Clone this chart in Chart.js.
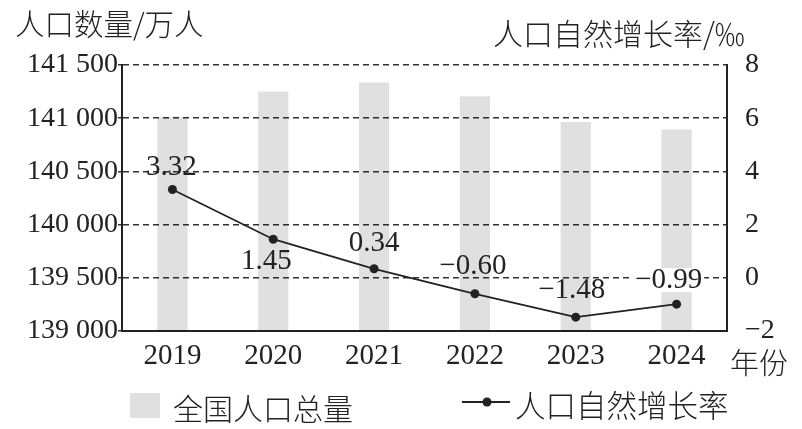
<!DOCTYPE html>
<html>
<head>
<meta charset="utf-8">
<script src="https://cdn.jsdelivr.net/npm/chart.js@4.4.1/dist/chart.umd.min.js"></script>
<style>
  body { margin: 0; background: #fff; }
  #wrap { position: relative; width: 802px; height: 429px; overflow: hidden; }
  #wrap canvas { position: absolute; left: 0; top: 0; }
  .txt { position: absolute; font-family: "Noto Sans CJK SC", sans-serif; font-weight: 300; color: #222; white-space: nowrap; line-height: 1; }
  .swatch { position: absolute; }
</style>
</head>
<body>
<div id="wrap">
  <canvas id="chart" width="802" height="429"></canvas>
  <div class="txt" style="left:15px;top:8px;font-size:29.5px;">人口数量/万人</div>
  <div class="txt" style="left:493px;top:17px;font-size:30px;">人口自然增长率/‰</div>
  <div class="txt" style="left:730px;top:347px;font-size:29px;">年份</div>
  <div class="swatch" style="left:130px;top:393px;width:30px;height:25px;background:#e0e0e0;"></div>
  <div class="txt" style="left:173px;top:392px;font-size:30px;">全国人口总量</div>
  <svg class="swatch" style="left:462px;top:394px;" width="50" height="16">
    <line x1="0" y1="8" x2="48" y2="8" stroke="#222" stroke-width="2"/>
    <circle cx="25" cy="8" r="4.5" fill="#222"/>
  </svg>
  <div class="txt" style="left:515px;top:389px;font-size:30.5px;">人口自然增长率</div>
</div>
<script>
'use strict'

var years = ['2019', '2020', '2021', '2022', '2023', '2024'];
// 全国人口总量 (万人)
var population = [141008, 141250, 141335, 141207, 140965, 140894];
// 人口自然增长率 (‰)
var growthRate = [3.32, 1.45, 0.34, -0.60, -1.48, -0.99];
var popTicks = [139000, 139500, 140000, 140500, 141000, 141500];
var rateTicks = [-2, 0, 2, 4, 6, 8];

// where each value label sits relative to its point: [dx, dy, white background]
var labelOffsets = [[-1, -22, false], [-7, 22, false], [0, -25, false], [-2, -27, false], [-4, -27, false], [-8, -24, true]];

var serif = '"Liberation Serif", "Times New Roman", serif';

function fmtPop(v) {
  return String(v).replace(/\B(?=(\d{3})+(?!\d))/g, ' ');
}
function fmtRate(v, digits) {
  var s = digits ? Math.abs(v).toFixed(digits) : String(Math.abs(v));
  return v < 0 ? '\u2212' + s : s;
}

var rateLabels = {
  id: 'rateLabels',
  afterDatasetsDraw: function(chart) {
    var meta = chart.getDatasetMeta(1);
    var ctx = chart.ctx;
    ctx.save();
    ctx.font = '29px ' + serif;
    ctx.textAlign = 'center';
    ctx.textBaseline = 'middle';
    meta.data.forEach(function(pt, i) {
      var off = labelOffsets[i];
      var x = pt.x + off[0], y = pt.y + off[1];
      var text = fmtRate(growthRate[i], 2);
      if (off[2]) {
        var w = ctx.measureText(text).width;
        ctx.fillStyle = '#fff';
        ctx.fillRect(x - w / 2 - 2, y - 12, w + 4, 24);
      }
      ctx.fillStyle = '#222';
      ctx.fillText(text, x, y);
    });
    ctx.restore();
  }
};

var chart = new Chart(document.getElementById('chart'), {
  data: {
    labels: years,
    datasets: [{
      type: 'bar',
      label: '全国人口总量',
      data: population,
      yAxisID: 'y',
      backgroundColor: 'rgba(0,0,0,0.12)',
      barPercentage: 1,
      categoryPercentage: 0.3,
      order: 1
    }, {
      type: 'line',
      label: '人口自然增长率',
      data: growthRate,
      yAxisID: 'y1',
      borderColor: '#222',
      borderWidth: 1.8,
      pointRadius: 4.5,
      pointBackgroundColor: '#222',
      pointBorderWidth: 0,
      tension: 0,
      order: 0
    }]
  },
  options: {
    responsive: false,
    animation: false,
    layout: { padding: { left: 0, right: 0, top: 65, bottom: 0 } },
    plugins: { legend: { display: false }, tooltip: { enabled: false } },
    scales: {
      x: {
        grid: { display: false },
        border: { display: true, color: '#222', width: 2 },
        ticks: { color: '#222', font: { family: serif, size: 29 }, padding: 0, maxRotation: 0 },
        afterFit: function(s) { s.height = 98; }
      },
      y: {
        position: 'left',
        min: 139000,
        max: 141500,
        afterBuildTicks: function(s) { s.ticks = popTicks.map(function(v) { return { value: v }; }); },
        grid: { color: '#333', lineWidth: 1.5, drawTicks: true, tickLength: 4, tickBorderDash: [] },
        border: { display: true, color: '#222', width: 2, dash: [6, 4] },
        ticks: { color: '#222', font: { family: serif, size: 28 }, padding: 0, callback: function(v) { return fmtPop(v); } },
        afterFit: function(s) { s.width = 122; }
      },
      y1: {
        position: 'right',
        min: -2,
        max: 8,
        afterBuildTicks: function(s) { s.ticks = rateTicks.map(function(v) { return { value: v }; }); },
        grid: { display: false },
        border: { display: true, color: '#222', width: 2 },
        ticks: { color: '#222', font: { family: serif, size: 28 }, padding: 10, callback: function(v) { return fmtRate(v); } },
        afterFit: function(s) { s.width = 75; }
      }
    }
  },
  plugins: [rateLabels]
});
</script>
</body>
</html>
